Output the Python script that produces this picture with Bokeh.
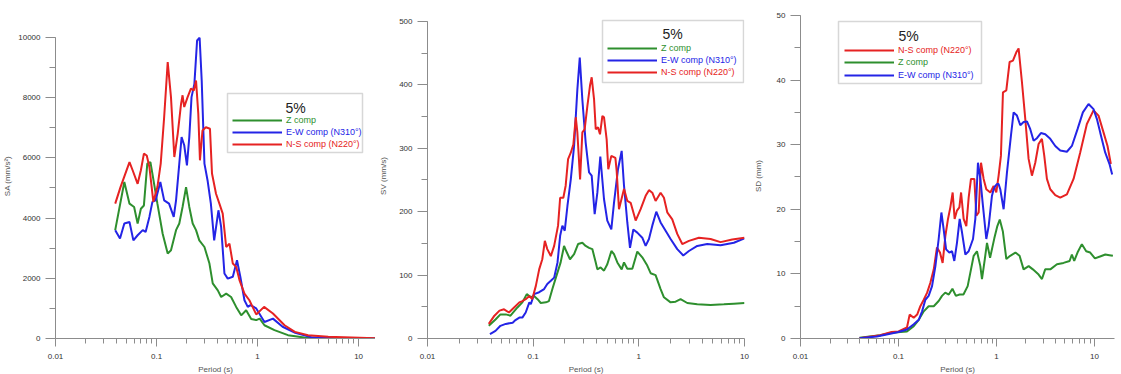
from bokeh.plotting import figure
from bokeh.layouts import row
from bokeh.models import (Legend, LegendItem, Label, BoxAnnotation, FixedTicker,
                          SingleIntervalTicker, CustomJSTickFormatter)
from bokeh.embed import file_html
from bokeh.resources import INLINE

GREEN = "#2e8f2e"
BLUE = "#2424e6"
RED = "#e62222"
FONT = "Liberation Sans"

# ---------------- Panel 1 : SA (mm/s2) ----------------
sa_T_z = [0.039, 0.048, 0.054, 0.060, 0.065, 0.070, 0.075, 0.081, 0.087, 0.091,
          0.102, 0.115, 0.129, 0.139, 0.156, 0.168, 0.181, 0.196, 0.211, 0.228,
          0.246, 0.265, 0.298, 0.334, 0.360, 0.404, 0.436, 0.489, 0.547, 0.614,
          0.689, 0.771, 0.865, 0.97, 1.05, 1.17, 1.47, 2.0, 2.9, 4.5, 8.0, 16.0]
sa_z = [3600, 5200, 4480, 4370, 3820, 4310, 4420, 5810, 5860, 5480,
        4480, 3480, 2820, 2930, 3600, 3820, 4370, 5030, 4370, 3820,
        3600, 3260, 3040, 2490, 1830, 1600, 1380, 1490, 1380, 1050,
        770, 940, 650, 610, 660, 440, 280, 110, 30, 5, 0, 0]

sa_T_ew = [0.039, 0.0435, 0.048, 0.054, 0.059, 0.065, 0.073, 0.078, 0.085, 0.091,
           0.098, 0.109, 0.119, 0.133, 0.148, 0.156, 0.168, 0.177, 0.188, 0.200,
           0.211, 0.222, 0.237, 0.252, 0.267, 0.280, 0.298, 0.320, 0.345, 0.372,
           0.410, 0.436, 0.470, 0.507, 0.569, 0.626, 0.675, 0.742, 0.800, 0.852,
           0.97, 1.17, 1.42, 1.77, 2.36, 3.5, 6.0, 16.0]
sa_ew = [3600, 3320, 3820, 3870, 3260, 3430, 3600, 3540, 4040, 4540,
         4590, 5200, 4590, 4480, 4040, 4590, 5810, 6690, 6420, 5750,
         6690, 8020, 8460, 9900, 9990, 8570, 5810, 5250, 4480, 3260,
         4260, 3710, 2160, 1990, 2050, 2600, 2050, 1270, 1050, 1110,
         1000, 550, 660, 390, 190, 30, 5, 0]

sa_T_ns = [0.039, 0.044, 0.054, 0.058, 0.065, 0.070, 0.075, 0.080, 0.085, 0.093,
           0.102, 0.110, 0.119, 0.129, 0.139, 0.150, 0.162, 0.175, 0.181, 0.188,
           0.203, 0.219, 0.234, 0.246, 0.259, 0.269, 0.285, 0.308, 0.338, 0.354,
           0.388, 0.419, 0.452, 0.489, 0.527, 0.569, 0.614, 0.662, 0.742, 0.830,
           0.97, 1.16, 1.42, 1.85, 2.34, 3.16, 5.0, 16.0]
sa_ns = [4480, 5030, 5860, 5590, 5140, 5590, 6140, 6080, 5700, 4540,
         5030, 5810, 7360, 9180, 8020, 6030, 6800, 7800, 8080, 7690,
         8020, 8300, 8240, 8570, 7470, 5920, 6910, 7020, 6970, 5480,
         4810, 4480, 4150, 3040, 3150, 2490, 2380, 1940, 1490, 1270,
         800, 1050, 830, 440, 220, 110, 55, 0]

# ---------------- Panel 2 : SV (mm/s) ----------------
sv_T_z = [0.038, 0.044, 0.049, 0.055, 0.061, 0.071, 0.079, 0.087, 0.095, 0.102,
          0.110, 0.118, 0.132, 0.141, 0.152, 0.164, 0.182, 0.196, 0.208, 0.223,
          0.244, 0.266, 0.292, 0.314, 0.338, 0.363, 0.391, 0.405, 0.435, 0.468,
          0.503, 0.550, 0.582, 0.626, 0.688, 0.724, 0.778, 0.868, 0.967, 1.078,
          1.202, 1.293, 1.441, 1.607, 1.728, 1.998, 2.228, 2.484, 2.873, 3.572,
          4.774, 6.381, 7.934, 10.0]
sv_z = [20, 30, 38, 38, 36, 49, 57, 70, 65, 67,
        62, 56, 57, 59, 78, 96, 120, 146, 136, 125,
        133, 149, 151, 146, 143, 141, 120, 109, 112, 107,
        117, 138, 133, 120, 109, 120, 110, 110, 137, 128,
        115, 103, 100, 78, 65, 57, 58, 62, 56, 54,
        53, 54, 55, 56]

sv_T_ew = [0.039, 0.044, 0.049, 0.055, 0.064, 0.068, 0.074, 0.079, 0.085, 0.092,
           0.095, 0.102, 0.114, 0.127, 0.136, 0.147, 0.158, 0.170, 0.180, 0.189,
           0.199, 0.211, 0.227, 0.244, 0.262, 0.276, 0.292, 0.314, 0.338, 0.358,
           0.382, 0.405, 0.432, 0.468, 0.503, 0.549, 0.582, 0.635, 0.688, 0.724,
           0.778, 0.825, 0.887, 0.967, 1.078, 1.160, 1.247, 1.341, 1.463, 1.607,
           1.792, 1.998, 2.310, 2.633, 2.979, 3.572, 4.440, 5.934, 7.934, 10.0]
sv_ew = [7, 12, 20, 23, 25, 29, 33, 33, 41, 57,
         54, 70, 73, 78, 86, 91, 96, 120, 162, 178,
         170, 209, 251, 304, 393, 443, 377, 309, 262, 257,
         196, 230, 287, 220, 186, 172, 214, 267, 296, 241,
         183, 143, 172, 167, 159, 146, 157, 178, 200, 183,
         170, 157, 141, 131, 138, 146, 149, 147, 151, 158]

sv_T_ns = [0.038, 0.043, 0.048, 0.053, 0.059, 0.066, 0.074, 0.079, 0.085, 0.092,
           0.098, 0.106, 0.114, 0.122, 0.129, 0.136, 0.147, 0.158, 0.172, 0.180,
           0.193, 0.203, 0.214, 0.227, 0.240, 0.253, 0.262, 0.278, 0.292, 0.307,
           0.326, 0.345, 0.358, 0.377, 0.391, 0.411, 0.429, 0.452, 0.468, 0.496,
           0.514, 0.549, 0.600, 0.617, 0.649, 0.724, 0.778, 0.837, 0.933, 1.040,
           1.160, 1.247, 1.341, 1.441, 1.607, 1.728, 1.858, 2.072, 2.310, 2.576,
           2.979, 3.704, 4.774, 5.934, 7.651, 10.0]
sv_ns = [23, 36, 44, 46, 41, 49, 57, 59, 62, 67,
         62, 83, 109, 125, 154, 141, 130, 146, 178, 222,
         222, 241, 283, 293, 306, 349, 325, 251, 325, 330,
         367, 399, 412, 377, 330, 333, 322, 351, 349, 314,
         267, 288, 285, 264, 204, 236, 217, 214, 186, 204,
         225, 234, 230, 217, 230, 222, 199, 188, 165, 149,
         154, 159, 157, 152, 156, 159]

# ---------------- Panel 3 : SD (mm) ----------------
sd_T_z = [0.040, 0.065, 0.085, 0.105, 0.122, 0.143, 0.161, 0.181, 0.203, 0.229,
          0.257, 0.278, 0.300, 0.326, 0.355, 0.385, 0.420, 0.460, 0.508, 0.541,
          0.585, 0.632, 0.684, 0.711, 0.760, 0.800, 0.860, 0.950, 1.02, 1.08,
          1.16, 1.26, 1.38, 1.56, 1.72, 1.89, 2.13, 2.35, 2.69, 2.91,
          3.14, 3.54, 4.14, 4.83, 5.57, 5.88, 6.21, 6.71, 7.43, 8.23,
          9.04, 10.1, 11.4, 12.9, 14.2, 15.4]
sd_z = [0.1, 0.5, 0.9, 1.0, 1.1, 1.9, 2.9, 4.2, 5.0, 5.0,
        5.8, 6.6, 7.1, 6.8, 7.7, 6.6, 6.8, 6.8, 8.1, 10.2,
        12.8, 13.5, 11.2, 9.2, 12.3, 14.8, 12.5, 15.5, 17.4, 18.4,
        16.6, 12.3, 12.8, 13.3, 12.8, 10.7, 11.2, 10.7, 9.9, 9.2,
        10.7, 10.7, 11.5, 11.7, 12.0, 13.0, 12.0, 13.3, 14.6, 13.5,
        13.3, 12.4, 12.7, 13.0, 12.9, 12.8]

sd_T_ew = [0.040, 0.060, 0.080, 0.100, 0.122, 0.143, 0.161, 0.174, 0.188, 0.203,
           0.220, 0.238, 0.257, 0.274, 0.289, 0.306, 0.330, 0.352, 0.371, 0.395,
           0.421, 0.445, 0.481, 0.520, 0.576, 0.608, 0.647, 0.684, 0.728, 0.787,
           0.832, 0.899, 0.935, 0.972, 1.011, 1.051, 1.093, 1.182, 1.279, 1.404,
           1.495, 1.617, 1.749, 1.891, 2.045, 2.211, 2.391, 2.585, 2.841, 3.144,
           3.536, 3.977, 4.472, 5.227, 5.879, 6.714, 7.610, 8.693, 9.775, 10.57,
           11.43, 12.85, 14.23, 15.15]
sd_ew = [0.05, 0.3, 0.7, 1.0, 1.4, 2.2, 2.9, 4.2, 6.0, 6.6,
         8.1, 11.2, 15.4, 19.5, 16.9, 13.8, 13.3, 13.5, 12.0, 14.8,
         18.5, 16.4, 13.0, 13.5, 15.4, 18.5, 27.2, 24.7, 20.5, 15.4,
         17.4, 22.1, 23.1, 23.6, 23.9, 23.9, 23.1, 20.0, 25.7, 31.4,
         35.0, 34.5, 33.0, 33.5, 33.6, 32.4, 30.6, 31.0, 31.8, 31.6,
         30.9, 29.8, 29.1, 28.9, 29.8, 32.4, 35.0, 36.3, 35.5, 34.0,
         31.9, 28.8, 27.0, 25.4]

sd_T_ns = [0.040, 0.065, 0.085, 0.100, 0.122, 0.130, 0.143, 0.155, 0.167, 0.181,
           0.196, 0.211, 0.229, 0.247, 0.265, 0.282, 0.301, 0.320, 0.338, 0.357,
           0.374, 0.395, 0.418, 0.435, 0.462, 0.492, 0.520, 0.549, 0.594, 0.623,
           0.658, 0.695, 0.739, 0.787, 0.865, 0.935, 0.995, 1.051, 1.110, 1.164,
           1.259, 1.361, 1.472, 1.592, 1.681, 1.818, 1.966, 2.126, 2.299, 2.486,
           2.689, 2.907, 3.071, 3.269, 3.536, 3.977, 4.472, 5.227, 6.114, 7.149,
           8.360, 9.775, 10.99, 12.36, 13.58, 14.68]
sd_ns = [0.05, 0.5, 1.0, 1.1, 1.7, 3.7, 3.2, 3.7, 5.0, 6.0,
         7.1, 8.6, 10.7, 14.1, 13.3, 11.7, 15.9, 18.5, 20.3, 22.6,
         18.5, 19.8, 20.3, 22.6, 18.5, 17.4, 21.8, 24.7, 24.7, 19.0,
         19.5, 27.2, 24.7, 23.1, 22.6, 23.6, 22.6, 25.2, 28.3, 38.1,
         38.4, 42.8, 43.0, 44.3, 44.9, 39.7, 34.0, 27.8, 25.2, 27.2,
         30.1, 30.9, 28.3, 24.7, 23.1, 22.2, 21.8, 22.3, 24.7, 28.8,
         33.2, 35.3, 34.5, 31.9, 29.8, 27.0]

# ---------------- labels / ticks ----------------
LBL_Z = "Z comp"
LBL_EW = "E-W comp (N310\u00b0)"
LBL_NS = "N-S comp (N220\u00b0)"
LEGEND_TITLE = "5%"
X_LABEL = "Period (s)"
MAJOR_X = [0.01, 0.1, 1, 10]
MINOR_X = [m * 10.0 ** e for e in (-2, -1, 0, 1) for m in range(2, 10)]

FRAME_H = 325
TOP_B = 13
BOT_B = 36


def make_panel(curves, order, x_end, y_top, y_axis_max, y_step, y_label, frame_w,
               border_lr, ylab_standoff, box, title_xy, line_x, rows):
    bl, br = border_lr
    p = figure(frame_width=frame_w, frame_height=FRAME_H, x_axis_type="log",
               x_range=(0.01, x_end), y_range=(0, y_top),
               min_border_left=bl, min_border_right=br,
               min_border_top=TOP_B, min_border_bottom=BOT_B,
               output_backend="svg", toolbar_location=None)
    p.outline_line_color = None
    p.grid.visible = False
    p.background_fill_color = "white"
    p.border_fill_color = "white"
    rend = {}
    for key in order:
        T, v, color = curves[key]
        rend[key] = p.line(T, v, line_color=color, line_width=2)
    xa = p.xaxis[0]
    ya = p.yaxis[0]
    xa.ticker = FixedTicker(ticks=MAJOR_X, minor_ticks=MINOR_X)
    xa.formatter = CustomJSTickFormatter(code="return String(Number(tick.toPrecision(2)));")
    ya.ticker = SingleIntervalTicker(interval=y_step, num_minor_ticks=2)
    ya.bounds = (0, y_axis_max)
    xa.axis_label = X_LABEL
    ya.axis_label = y_label
    for ax in (xa, ya):
        ax.axis_line_color = "#8c8c8c"
        ax.major_tick_line_color = "#8c8c8c"
        ax.minor_tick_line_color = "#8c8c8c"
        ax.major_tick_in = 0
        ax.minor_tick_in = 0
        ax.major_label_text_font = FONT
        ax.major_label_text_font_size = "8px"
        ax.major_label_text_color = "#333333"
        ax.axis_label_text_font = FONT
        ax.axis_label_text_font_size = "8px"
        ax.axis_label_text_color = "#555555"
        ax.axis_label_text_font_style = "normal"
    xa.major_tick_out = 8
    xa.minor_tick_out = 5
    xa.major_label_standoff = 7
    xa.axis_label_standoff = 3
    ya.major_tick_out = 10
    ya.minor_tick_out = 6
    ya.major_label_standoff = 5
    ya.axis_label_standoff = ylab_standoff

    bx = BoxAnnotation(left=box[0], right=box[1], top=box[2], bottom=box[3],
                       left_units="screen", right_units="screen",
                       top_units="screen", bottom_units="screen",
                       fill_color="white", fill_alpha=1.0,
                       line_color="#7a7a7a", line_width=1.5)
    p.add_layout(bx)
    p.add_layout(Label(x=title_xy[0], y=title_xy[1], x_units="screen", y_units="screen",
                       text=LEGEND_TITLE, text_font=FONT, text_font_size="14px",
                       text_color="#222222", text_align="center", text_baseline="middle"))
    for key, label, ycen in rows:
        color = curves[key][2]
        lg = Legend(items=[LegendItem(label=label, renderers=[rend[key]])],
                    location=(line_x, ycen - 6), orientation="vertical",
                    padding=0, margin=0, spacing=0,
                    border_line_color=None, background_fill_alpha=0,
                    glyph_width=50, glyph_height=12, label_height=12,
                    label_standoff=4, label_text_font=FONT,
                    label_text_font_size="9px", label_text_color=color)
        p.add_layout(lg)
    return p


p1 = make_panel({"z": (sa_T_z, sa_z, GREEN), "ew": (sa_T_ew, sa_ew, BLUE),
                 "ns": (sa_T_ns, sa_ns, RED)}, ["z", "ew", "ns"],
                14.7, 10797, 10000, 2000, "SA (mm/s\u00b2)", 320, (55, 0), 3,
                (172, 307, 245, 186), (240, 231), 177,
                [("z", LBL_Z, 218), ("ew", LBL_EW, 206), ("ns", LBL_NS, 194)])

p2 = make_panel({"z": (sv_T_z, sv_z, GREEN), "ew": (sv_T_ew, sv_ew, BLUE),
                 "ns": (sv_T_ns, sv_ns, RED)}, ["z", "ew", "ns"],
                10.0, 512.6, 500, 100, "SV (mm/s)", 317, (52, 6), 8,
                (175, 316, 318, 256), (245, 305), 180,
                [("z", LBL_Z, 290), ("ew", LBL_EW, 278), ("ns", LBL_NS, 266)])

p3 = make_panel({"z": (sd_T_z, sd_z, GREEN), "ew": (sd_T_ew, sd_ew, BLUE),
                 "ns": (sd_T_ns, sd_ns, RED)}, ["z", "ns", "ew"],
                16.0, 50.3, 50, 10, "SD (mm)", 314, (50, 7), 11,
                (38, 181, 317, 255), (108, 303), 44,
                [("ns", LBL_NS, 288), ("z", LBL_Z, 276), ("ew", LBL_EW, 263)])

layout = row(p1, p2, p3, spacing=0)
open("out.html", "w").write(file_html(layout, INLINE))
